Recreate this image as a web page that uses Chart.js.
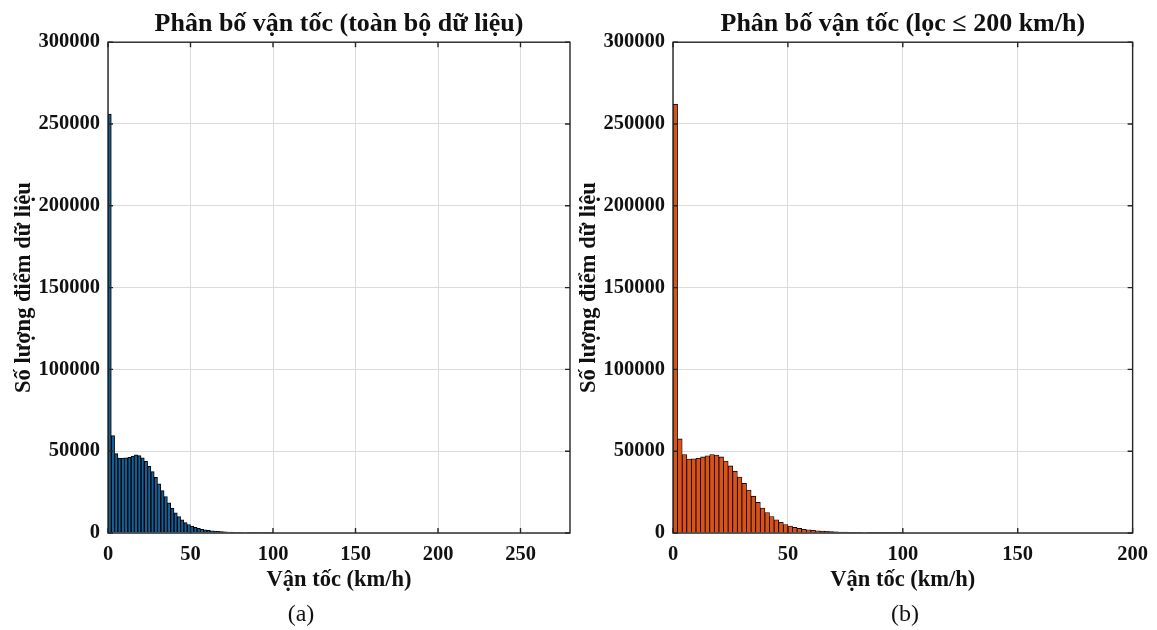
<!DOCTYPE html>
<html>
<head>
<meta charset="utf-8">
<script src="https://cdn.jsdelivr.net/npm/chart.js@4.4.1/dist/chart.umd.min.js"></script>
<style>
  html, body { margin: 0; padding: 0; background: #fff; }
  #wrap { position: relative; width: 1157px; height: 630px; overflow: hidden; }
  #wrap canvas { position: absolute; top: 0; }
  #chartA { left: 0; }
  #chartB { left: 572px; }
</style>
</head>
<body>
<div id="wrap">
  <canvas id="chartA" width="572" height="630"></canvas>
  <canvas id="chartB" width="585" height="630"></canvas>
</div>
<script>
// bin centres, 2 km/h wide bins from 0 to 100 km/h
const binCenters = [
  1, 3, 5, 7, 9, 11, 13, 15, 17, 19,
  21, 23, 25, 27, 29, 31, 33, 35, 37, 39,
  41, 43, 45, 47, 49, 51, 53, 55, 57, 59,
  61, 63, 65, 67, 69, 71, 73, 75, 77, 79,
  81, 83, 85, 87, 89, 91, 93, 95, 97, 99,
];

// (a) all data
const countsAll = [
  256000, 59500, 48500, 45800, 45800, 45900, 46300, 47000, 47800, 47300,
  46000, 43800, 40800, 37500, 34000, 30000, 26000, 22300, 18500, 15200,
  12400, 10000, 8000, 6400, 5200, 4200, 3400, 2800, 2300, 1900,
  1600, 1350, 1150, 980, 840, 720, 620, 540, 470, 410,
  360, 310, 270, 230, 200, 170, 140, 120, 100, 85,
];

// (b) filtered <= 200 km/h
const countsFiltered = [
  262000, 57500, 48000, 45200, 45300, 45600, 46500, 47200, 47900, 47600,
  46500, 44000, 41000, 37800, 34200, 30300, 26300, 22500, 18700, 15300,
  12500, 10100, 8100, 6500, 5200, 4200, 3400, 2800, 2300, 1900,
  1600, 1350, 1150, 980, 840, 720, 620, 540, 470, 410,
  360, 310, 270, 230, 200, 170, 140, 120, 100, 85,
];

const yTicks = [0, 50000, 100000, 150000, 200000, 250000, 300000];

const TITLE_A = 'Phân bố vận tốc (toàn bộ dữ liệu)';
const TITLE_B = 'Phân bố vận tốc (lọc ≤ 200 km/h)';
const X_TITLE = 'Vận tốc (km/h)';
const Y_TITLE = 'Số lượng điểm dữ liệu';

Chart.defaults.font.family = '"Liberation Serif", "Times New Roman", serif';
Chart.defaults.color = '#111';

const SERIF = '"Liberation Serif", "Times New Roman", serif';
const GRID_COLOR = '#dcdcdc';
const AXIS_COLOR = '#262626';

// axes box + inward tick marks + sub caption, drawn on top of the bars
const boxPlugin = {
  id: 'box',
  afterDatasetsDraw(chart, args, opts) {
    const { ctx, chartArea, scales } = chart;
    const { left, right, top, bottom } = chartArea;
    ctx.save();
    ctx.strokeStyle = AXIS_COLOR;
    ctx.lineWidth = 1.4;
    ctx.beginPath();
    scales.x.ticks.forEach((t) => {
      const px = scales.x.getPixelForValue(t.value);
      ctx.moveTo(px, bottom);
      ctx.lineTo(px, bottom - 5);
      ctx.moveTo(px, top);
      ctx.lineTo(px, top + 5);
    });
    scales.y.ticks.forEach((t) => {
      const py = scales.y.getPixelForValue(t.value);
      ctx.moveTo(left, py);
      ctx.lineTo(left + 5, py);
      ctx.moveTo(right, py);
      ctx.lineTo(right - 5, py);
    });
    ctx.stroke();
    ctx.strokeRect(left, top, right - left, bottom - top);

    ctx.fillStyle = '#111';
    ctx.font = `24px ${SERIF}`;
    ctx.textAlign = 'center';
    ctx.textBaseline = 'middle';
    ctx.fillText(opts.caption, opts.captionX, 615);
    ctx.restore();
  },
};

const makeChart = (elementId, { counts, color, title, xMax, yAxisWidth, yTitlePad, padRight, caption, captionX, edge }) => {
  const DATASET = {
    data: counts,
    backgroundColor: color,
    borderColor: '#000',
    borderWidth: edge,
    borderSkipped: 'start',
    barPercentage: 1,
    categoryPercentage: 1,
  };

  const SCALES = {
    x: {
      type: 'linear',
      min: 0,
      max: xMax,
      offset: false,
      grid: { color: GRID_COLOR, drawTicks: false, offset: false },
      border: { display: false },
      ticks: {
        stepSize: 50,
        includeBounds: false,
        padding: 9,
        color: '#111',
        font: { size: 20.5, weight: 'bold' },
        callback: (v) => String(v),
      },
      title: {
        display: true,
        text: X_TITLE,
        color: '#111',
        font: { size: 22.5, weight: 'bold' },
        padding: { top: 0, bottom: 36 },
      },
      afterFit: (scale) => { scale.height = 97; },
    },
    y: {
      min: 0,
      max: 300000,
      grid: { color: GRID_COLOR, drawTicks: false },
      border: { display: false },
      afterBuildTicks: (scale) => {
        scale.ticks = yTicks.map((v) => ({ value: v }));
      },
      ticks: {
        padding: 8,
        color: '#111',
        font: { size: 20.5, weight: 'bold' },
        callback: (v) => String(v),
      },
      title: {
        display: true,
        text: Y_TITLE,
        color: '#111',
        font: { size: 22.5, weight: 'bold' },
        padding: { top: yTitlePad, bottom: 0 },
      },
      afterFit: (scale) => { scale.width = yAxisWidth; },
    },
  };

  return new Chart(document.getElementById(elementId), {
    type: 'bar',
    data: { labels: binCenters, datasets: [DATASET] },
    options: {
      responsive: false,
      animation: false,
      events: [],
      layout: { padding: { left: 0, right: padRight, top: 0, bottom: 0 } },
      plugins: {
        legend: { display: false },
        tooltip: { enabled: false },
        title: {
          display: true,
          text: title,
          fullSize: false,
          color: '#111',
          font: { size: 26, weight: 'bold' },
          padding: { top: 9, bottom: 2 },
        },
        box: { caption, captionX },
      },
      scales: SCALES,
    },
    plugins: [boxPlugin],
  });
};

makeChart('chartA', {
  counts: countsAll,
  color: '#145f98',
  title: TITLE_A,
  xMax: 280,
  yAxisWidth: 108,
  yTitlePad: 10.5,
  padRight: 2,
  caption: '(a)',
  captionX: 301,
  edge: 1,
});

makeChart('chartB', {
  counts: countsFiltered,
  color: '#D95319',
  title: TITLE_B,
  xMax: 200,
  yAxisWidth: 101,
  yTitlePad: 3.5,
  padRight: 20,
  caption: '(b)',
  captionX: 333,
  edge: 0.8,
});
</script>
</body>
</html>
